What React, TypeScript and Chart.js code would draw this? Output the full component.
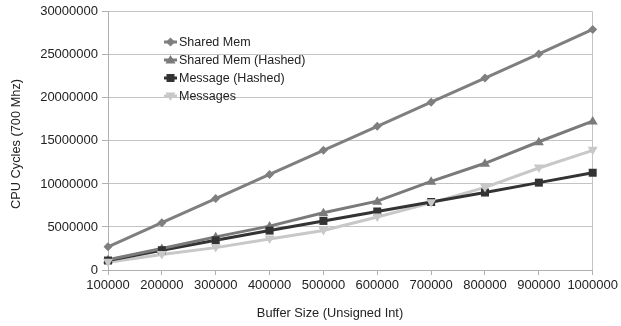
import { useEffect, useRef } from "react";
import { Chart, registerables } from "chart.js";

Chart.register(...registerables);

// Buffer sizes on the x axis
const bufferSizes = [100000, 200000, 300000, 400000, 500000, 600000, 700000, 800000, 900000, 1000000];

// CPU cycles per configuration
const sharedMem = [2700000, 5500000, 8300000, 11100000, 13900000, 16700000, 19500000, 22300000, 25100000, 27950000];
const sharedMemHashed = [1200000, 2500000, 3850000, 5100000, 6650000, 8000000, 10300000, 12400000, 14900000, 17300000];
const messageHashed = [1100000, 2300000, 3450000, 4580000, 5700000, 6800000, 7900000, 9000000, 10150000, 11300000];
const messages = [900000, 1800000, 2600000, 3600000, 4600000, 6150000, 7800000, 9600000, 11850000, 13900000];

const seriesNames = ["Shared Mem", "Shared Mem (Hashed)", "Message (Hashed)", "Messages"];
const xTitle = "Buffer Size (Unsigned Int)";
const yTitle = "CPU Cycles (700 Mhz)";
const yMax = 30000000;
const yStep = 5000000;

const FONT = "'Liberation Sans', Arial, sans-serif";
const TEXT = "#222222";

type Marker = "diamond" | "triangle" | "square" | "down";

function drawMarker(ctx: CanvasRenderingContext2D, kind: Marker, x: number, y: number, color: string) {
  ctx.save();
  ctx.fillStyle = color;
  ctx.beginPath();
  if (kind === "diamond") {
    ctx.moveTo(x, y - 4.5);
    ctx.lineTo(x + 4.5, y);
    ctx.lineTo(x, y + 4.5);
    ctx.lineTo(x - 4.5, y);
  } else if (kind === "triangle") {
    ctx.moveTo(x, y - 5);
    ctx.lineTo(x + 5, y + 3.5);
    ctx.lineTo(x - 5, y + 3.5);
  } else if (kind === "down") {
    ctx.moveTo(x, y + 5);
    ctx.lineTo(x + 5, y - 3.5);
    ctx.lineTo(x - 5, y - 3.5);
  } else {
    ctx.rect(x - 4, y - 4, 8, 8);
  }
  ctx.closePath();
  ctx.fill();
  ctx.restore();
}

const markers: Marker[] = ["diamond", "triangle", "square", "down"];
const colors = ["#7f7f7f", "#7a7a7a", "#333333", "#c8c8c8"];

// Legend drawn inside the plot area (no box) plus the two axis titles
const annotations = {
  id: "annotations",
  afterDraw(chart: Chart) {
    const ctx = chart.ctx;
    const x0 = 164;
    const y0 = 42;
    const gap = 18;
    ctx.save();
    ctx.font = `12.5px ${FONT}`;
    ctx.textBaseline = "middle";
    ctx.textAlign = "left";
    seriesNames.forEach((name, i) => {
      const y = y0 + i * gap;
      ctx.strokeStyle = colors[i];
      ctx.lineWidth = 3;
      ctx.beginPath();
      ctx.moveTo(x0, y);
      ctx.lineTo(x0 + 13, y);
      ctx.stroke();
      drawMarker(ctx, markers[i], x0 + 6.5, y, colors[i]);
      ctx.fillStyle = TEXT;
      ctx.fillText(name, x0 + 15, y + 0.5);
    });

    ctx.font = `12.8px ${FONT}`;
    ctx.textAlign = "center";
    ctx.fillText(xTitle, 330, 313);

    ctx.translate(16, 144);
    ctx.rotate(-Math.PI / 2);
    ctx.fillText(yTitle, 0, 0);
    ctx.restore();
  },
};

// Point markers for the lines
const markerPlugin = {
  id: "markerPlugin",
  afterDatasetsDraw(chart: Chart) {
    const ctx = chart.ctx;
    chart.data.datasets.forEach((_ds, i) => {
      const meta = chart.getDatasetMeta(i);
      meta.data.forEach((pt: any) => {
        drawMarker(ctx, markers[i], pt.x, pt.y, colors[i]);
      });
    });
  },
};

export default function App() {
  const ref = useRef<HTMLCanvasElement | null>(null);

  useEffect(() => {
    if (!ref.current) return;
    const series = [sharedMem, sharedMemHashed, messageHashed, messages];
    const chart = new Chart(ref.current, {
      type: "line",
      data: {
        labels: bufferSizes.map(String),
        datasets: series.map((data, i) => ({
          label: seriesNames[i],
          data,
          borderColor: colors[i],
          backgroundColor: colors[i],
          borderWidth: 3,
          pointRadius: 0,
          tension: 0,
        })),
      },
      options: {
        animation: false,
        responsive: false,
        layout: { padding: { left: 0, top: 10, right: 27, bottom: 0 } },
        plugins: {
          legend: { display: false },
          tooltip: { enabled: false },
        },
        scales: {
          x: {
            offset: false,
            grid: {
              color: (c: any) => (c.index === bufferSizes.length - 1 ? "#c4c4c4" : "rgba(0,0,0,0)"),
              tickColor: "#b0b0b0",
              tickLength: 5,
              lineWidth: 1,
            },
            border: { color: "#b0b0b0", width: 1 },
            ticks: {
              color: TEXT,
              font: { family: FONT, size: 13 },
              padding: 3,
              maxRotation: 0,
              autoSkip: false,
            },
            afterFit: (scale: any) => {
              scale.height = 56;
            },
          },
          y: {
            min: 0,
            max: yMax,
            grid: {
              color: "#c4c4c4",
              tickColor: "#b0b0b0",
              tickLength: 6,
              lineWidth: 1,
            },
            border: { color: "#b0b0b0", width: 1 },
            ticks: {
              stepSize: yStep,
              color: TEXT,
              font: { family: FONT, size: 13 },
              padding: 4,
              callback: (v: any) => String(v),
            },
            afterFit: (scale: any) => {
              scale.width = 108;
            },
          },
        },
      },
      plugins: [markerPlugin, annotations],
    });
    return () => chart.destroy();
  }, []);

  return (
    <div style={{ position: "fixed", left: 0, top: 0, width: 621, height: 326, background: "#ffffff" }}>
      <canvas ref={ref} width={621} height={326} style={{ display: "block" }} />
    </div>
  );
}
